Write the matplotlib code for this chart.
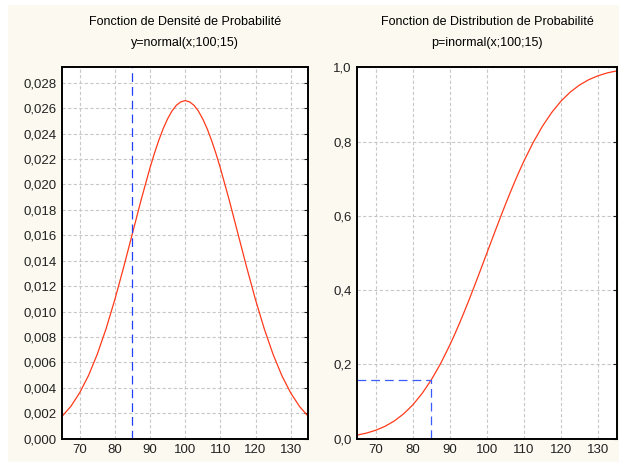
import matplotlib
matplotlib.use("Agg")
import matplotlib.pyplot as plt
from matplotlib.patches import Rectangle

plt.rcParams['font.family'] = ['Liberation Sans', 'DejaVu Sans']

# values (normal, mean 100, sd 15)
x = [65, 67.5, 70, 72.5, 75, 77.5, 80, 82.5, 85, 87.5, 90, 91.25, 92.5,
     93.75, 95, 96.25, 97.5, 98.75, 100, 101.25, 102.5, 103.75, 105, 106.25,
     107.5, 108.75, 110, 112.5, 115, 117.5, 120, 122.5, 125, 127.5, 130,
     132.5, 135]
density = [0.00175, 0.00254, 0.00360, 0.00495, 0.00663, 0.00863, 0.01093,
           0.01347, 0.01613, 0.01880, 0.02130, 0.02244, 0.02347, 0.02439,
           0.02516, 0.02578, 0.02623, 0.02650, 0.02660, 0.02650, 0.02623,
           0.02578, 0.02516, 0.02439, 0.02347, 0.02244, 0.02130, 0.01880,
           0.01613, 0.01347, 0.01093, 0.00863, 0.00663, 0.00495, 0.00360,
           0.00254, 0.00175]
cumul = [0.0098, 0.0151, 0.0228, 0.0334, 0.0478, 0.0668, 0.0912, 0.1217,
         0.1587, 0.2023, 0.2525, 0.2798, 0.3085, 0.3385, 0.3694, 0.4013,
         0.4338, 0.4668, 0.5000, 0.5332, 0.5662, 0.5987, 0.6306, 0.6615,
         0.6915, 0.7202, 0.7475, 0.7977, 0.8413, 0.8783, 0.9088, 0.9332,
         0.9522, 0.9666, 0.9772, 0.9849, 0.9902]

x_mark = 85
p_mark = 0.1587

x_ticks = [70, 80, 90, 100, 110, 120, 130]
dens_ticks = [i * 0.002 for i in range(15)]
dens_labels = ['0,%03d' % (i * 2) for i in range(15)]
cum_ticks = [0.0, 0.2, 0.4, 0.6, 0.8, 1.0]
cum_labels = ['0,0', '0,2', '0,4', '0,6', '0,8', '1,0']

titles_left = ['Fonction de Densité de Probabilité', 'y=normal(x;100;15)']
titles_right = ['Fonction de Distribution de Probabilité', 'p=inormal(x;100;15)']

W, H = 621, 470
fig = plt.figure(figsize=(W / 100, H / 100), dpi=100)
fig.patch.set_facecolor('white')
fig.patches.append(Rectangle((8 / W, 1 - 462 / H), (619 - 8) / W, (462 - 5) / H,
                             transform=fig.transFigure, facecolor='#fcf9f0',
                             edgecolor='none', zorder=-10))

red = '#ff3a1a'
blue = '#2040ff'

def style(ax, yt, yl):
    ax.set_facecolor('white')
    ax.set_xlim(65, 135)
    ax.set_xticks(x_ticks)
    ax.set_yticks(yt)
    ax.set_yticklabels(yl)
    ax.grid(True, color='#c8c8c8', linestyle=(0, (3, 2)), linewidth=0.8)
    ax.set_axisbelow(True)
    for s in ax.spines.values():
        s.set_linewidth(1.4)
        s.set_color('black')
    ax.tick_params(axis='both', labelsize=9.5, colors='#222222', pad=4)
    ax.tick_params(axis='x', length=0)
    ax.tick_params(axis='y', direction='in', length=3, right=True, left=False)

# left panel
ax1 = fig.add_axes([62 / W, 1 - 438.7 / H, (308.3 - 62) / W, (438.7 - 67.3) / H])
ax1.plot(x, density, color=red, lw=0.9)
ax1.axvline(x_mark, color=blue, lw=0.9, dashes=(7, 4))
ax1.set_ylim(0, 0.02922)
style(ax1, dens_ticks, dens_labels)
fig.text(185 / W, 1 - 22 / H, titles_left[0], ha='center', va='center', fontsize=9)
fig.text(185 / W, 1 - 43 / H, titles_left[1], ha='center', va='center', fontsize=9)

# right panel
ax2 = fig.add_axes([357.3 / W, 1 - 438.7 / H, (616.5 - 357.3) / W, (438.7 - 67.3) / H])
ax2.plot(x, cumul, color=red, lw=0.9)
ax2.plot([65, x_mark, x_mark], [p_mark, p_mark, 0], color='#3a5cff', lw=0.9, dashes=(7, 4))
ax2.set_ylim(0, 1.0)
style(ax2, cum_ticks, cum_labels)
fig.text(487 / W, 1 - 22 / H, titles_right[0], ha='center', va='center', fontsize=9)
fig.text(487 / W, 1 - 43 / H, titles_right[1], ha='center', va='center', fontsize=9)

fig.savefig('out.png', dpi=100, facecolor=fig.get_facecolor())
